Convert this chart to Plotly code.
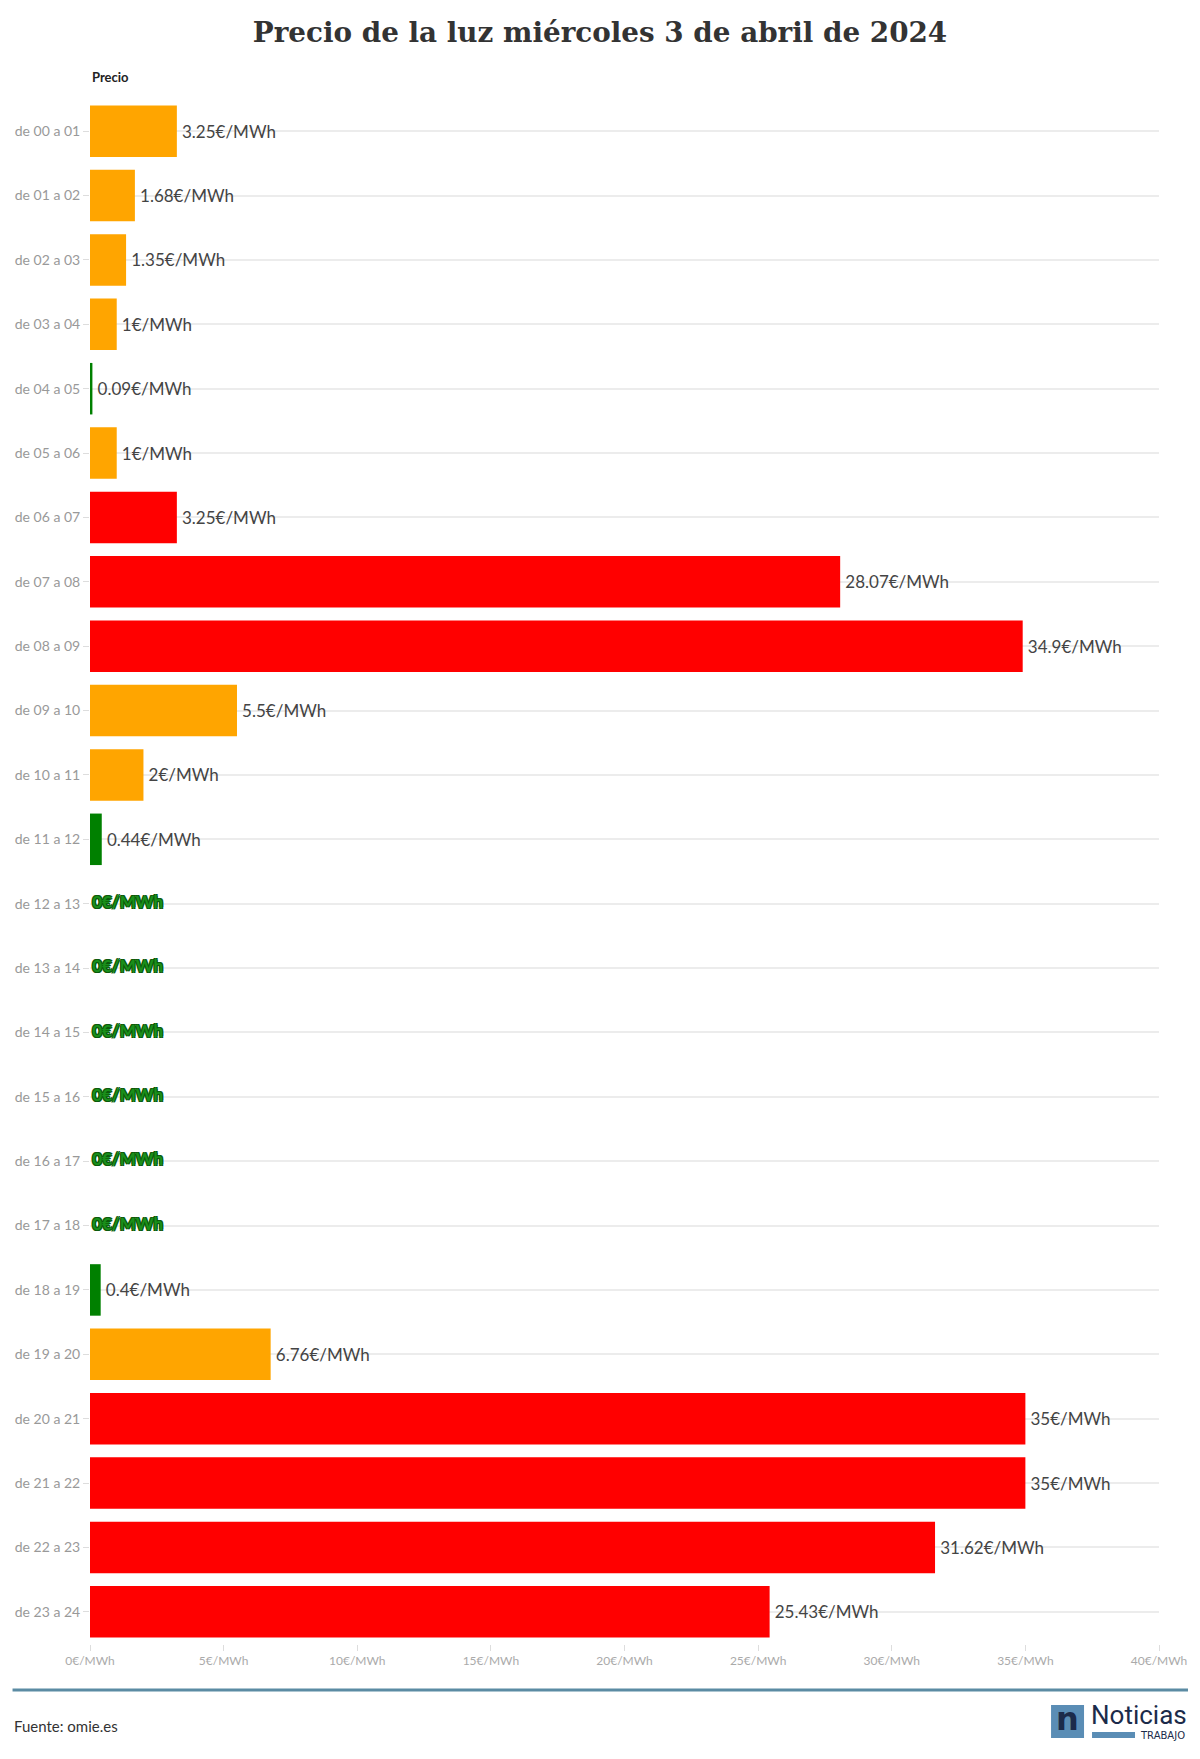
import plotly.graph_objects as go

hours = ["de 00 a 01","de 01 a 02","de 02 a 03","de 03 a 04","de 04 a 05","de 05 a 06",
         "de 06 a 07","de 07 a 08","de 08 a 09","de 09 a 10","de 10 a 11","de 11 a 12",
         "de 12 a 13","de 13 a 14","de 14 a 15","de 15 a 16","de 16 a 17","de 17 a 18",
         "de 18 a 19","de 19 a 20","de 20 a 21","de 21 a 22","de 22 a 23","de 23 a 24"]
prices = [3.25,1.68,1.35,1,0.09,1,3.25,28.07,34.9,5.5,2,0.44,0,0,0,0,0,0,0.4,6.76,35,35,31.62,25.43]
levels = ["mid","mid","mid","mid","low","mid","high","high","high","mid","mid","low",
          "low","low","low","low","low","low","low","mid","high","high","high","high"]
level_colors = {"low": "#008000", "mid": "#FFA500", "high": "#FF0000"}
x_ticks = [0,5,10,15,20,25,30,35,40]

def fmt(v):
    return ("%g" % v) + "€/MWh"

# page offset from default body margin
OFF = 8
W, H = 1200 - 2*OFF, 1759 - 2*OFF
PL, PR, PT, PB = 89.5 - OFF, 1159 - OFF, 99 - OFF, 1644 - OFF

def px(xp):  # page x -> paper
    return (xp - OFF - PL) / (PR - PL)
def py(yp):  # page y -> paper
    return (PB - (yp - OFF)) / (PB - PT)

nz = [i for i, v in enumerate(prices) if v != 0]
z = [i for i, v in enumerate(prices) if v == 0]

fig = go.Figure()
fig.add_trace(go.Bar(
    y=[hours[i] for i in nz], x=[prices[i] for i in nz], orientation="h",
    marker=dict(color=[level_colors[levels[i]] for i in nz], line=dict(width=0)),
    text=["\u2009" + fmt(prices[i]) for i in nz], textposition="outside", cliponaxis=False,
    textfont=dict(family="Lato, Open Sans, sans-serif", size=17, color="#444"),
    hoverinfo="skip", width=0.8,
))
fig.add_trace(go.Scatter(
    y=[hours[i] for i in z], x=[prices[i] for i in z], mode="text",
    text=["\u2009" + fmt(prices[i]) for i in z], textposition="middle right",
    textfont=dict(family="Lato, sans-serif", size=17, color="#1a8f1a", weight="bold",
                  shadow="-1px -1px 0 #0b5a0b, 1px -1px 0 #0b5a0b, -1px 1px 0 #0b5a0b, 1px 1px 0 #0b5a0b, 0 0 3px #fff"),
    cliponaxis=False, hoverinfo="skip", showlegend=False,
))

fig.update_layout(
    width=W, height=H, plot_bgcolor="white", paper_bgcolor="white",
    margin=dict(l=PL, r=W - PR, t=PT, b=H - PB, autoexpand=False), showlegend=False, bargap=0.2,
    title=dict(text="Precio de la luz miércoles 3 de abril de 2024", x=0.5, xanchor="center",
               y=1 - (32 - OFF)/H, yanchor="middle",
               font=dict(family="DejaVu Serif, serif", size=27.8, color="#333", weight="bold")),
    xaxis=dict(range=[0, 40], tickvals=x_ticks, ticktext=[fmt(v) for v in x_ticks],
               showgrid=False, zeroline=False, showline=False,
               ticks="outside", ticklen=6, tickcolor="#ddd",
               tickfont=dict(family="Lato, sans-serif", size=12, color="#aaa")),
    yaxis=dict(categoryorder="array", categoryarray=hours, autorange="reversed",
               showgrid=True, gridcolor="#ececec", gridwidth=2,
               ticks="outside", ticklen=6, tickcolor="#ddd",
               tickfont=dict(family="Lato, sans-serif", size=14, color="#999")),
)

fig.add_annotation(text="<b>Precio</b>", xref="paper", yref="paper", x=px(89.5), y=py(77),
                   xanchor="left", yanchor="middle", showarrow=False,
                   font=dict(family="Lato, sans-serif", size=13, color="#222"))

# footer
fig.add_shape(type="line", xref="paper", yref="paper", x0=px(12), x1=px(1188),
              y0=py(1690), y1=py(1690), line=dict(color="#5b8ba3", width=3))
fig.add_annotation(text="Fuente: omie.es", xref="paper", yref="paper",
                   x=px(11), y=py(1726), xanchor="left", yanchor="middle",
                   showarrow=False, font=dict(family="Lato, sans-serif", size=15, color="#333"))

fig.add_shape(type="rect", xref="paper", yref="paper", x0=px(1051), x1=px(1084),
              y0=py(1738), y1=py(1705), fillcolor="#5a8db5", line=dict(width=0))
fig.add_annotation(text="<b>n</b>", xref="paper", yref="paper", x=px(1067.5), y=py(1719),
                   xanchor="center", yanchor="middle", showarrow=False,
                   font=dict(family="DejaVu Sans, sans-serif", size=32, color="#1c2b4a"))
fig.add_annotation(text="Noticias", xref="paper", yref="paper", x=px(1089), y=py(1715),
                   xanchor="left", yanchor="middle", showarrow=False,
                   font=dict(family="Roboto, sans-serif", size=26, color="#1c2b4a"))
fig.add_shape(type="rect", xref="paper", yref="paper", x0=px(1092), x1=px(1135),
              y0=py(1738), y1=py(1732), fillcolor="#5a8db5", line=dict(width=0))
fig.add_annotation(text="TRABAJO", xref="paper", yref="paper", x=px(1187), y=py(1735),
                   xanchor="right", yanchor="middle", showarrow=False,
                   font=dict(family="DejaVu Sans, sans-serif", size=10, color="#1c2b4a"))

fig.write_html("out.html")
